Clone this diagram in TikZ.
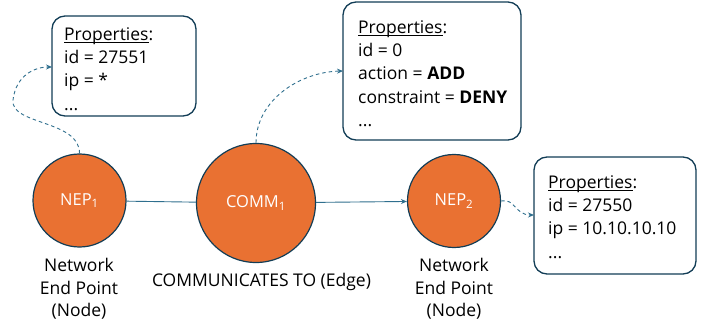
\documentclass[tikz,border=0pt]{standalone}
\usepackage{fontspec}
\setmainfont{Open Sans}
\usetikzlibrary{arrows.meta}
\definecolor{nodeorange}{HTML}{E97132}
\definecolor{rimblue}{HTML}{123D56}
\definecolor{linkblue}{HTML}{2F6F8E}
% underline drawn just below the baseline, through the descenders
\newcommand\headul[1]{\underline{\smash{#1}}\vphantom{Pd}}
\tikzset{
  x=1pt, y=-1pt,
  entity/.style={circle, draw=rimblue, line width=1.2pt, fill=nodeorange,
    text=white, inner sep=0pt, font=\fontsize{16.5}{20}\selectfont},
  propbox/.style={draw=rimblue, line width=1.3pt, rounded corners=13pt, fill=white},
  proptext/.style={anchor=north west, align=left, inner sep=0pt,
    font=\fontsize{17.5}{23.2}\selectfont},
  caption/.style={align=center, inner sep=0pt, font=\fontsize{17.5}{22.5}\selectfont},
  link/.style={draw=linkblue, line width=0.9pt},
  tip/.style={-{Stealth[length=6pt,width=5pt]}},
  dashlink/.style={link, dashed, dash pattern=on 3.5pt off 3pt, tip}
}
\begin{document}
\begin{tikzpicture}
\useasboundingbox (0,0) rectangle (709,331);

% entities
\node[entity, minimum size=93pt] (nep1) at (79.5,200.5) {NEP\textsubscript{1}};
\node[entity, minimum size=119pt] (comm) at (256,203) {COMM\textsubscript{1}};
\node[entity, minimum size=93pt] (nep2) at (454,201) {NEP\textsubscript{2}};

% property boxes
\draw[propbox] (52,16) rectangle (196,116);
\node[proptext] (p1) at (64,27) {\headul{Properties}:\\ id = 27551\\ ip = *\\ ...};
\coordinate (b1) at (52,67);

\draw[propbox] (343,2) rectangle (521,140);
\node[proptext] (p2) at (358,20) {\headul{Properties}:\\ id = 0\\ action = \textbf{ADD}\\ constraint = \textbf{DENY}\\ ...};
\coordinate (b2) at (343,71);

\draw[propbox] (534,157) rectangle (696,274);
\node[proptext] (p3) at (548,175) {\headul{Properties}:\\ id = 27550\\ ip = 10.10.10.10\\ ...};
\coordinate (b3) at (534,215);

% edge
\draw[link] (nep1) -- (comm);
\draw[link, tip] (comm) -- (nep2);

% dashed links to the property boxes
\draw[dashlink] (nep1.north) .. controls (80,120) and (10,125) .. (13,100)
  .. controls (16,75) and (35,67) .. (b1);
\draw[dashlink] (comm.north) .. controls (256,100) and (300,72) .. (b2);
\draw[dashlink] (nep2.east) .. controls (515,198) and (515,215) .. (b3);

% captions
\node[caption] (c1) at (79,289) {Network\\ End Point\\ (Node)};
\node[caption] (c2) at (261.5,282) {COMMUNICATES TO (Edge)};
\node[caption] (c3) at (454,289) {Network\\ End Point\\ (Node)};
\end{tikzpicture}
\end{document}
